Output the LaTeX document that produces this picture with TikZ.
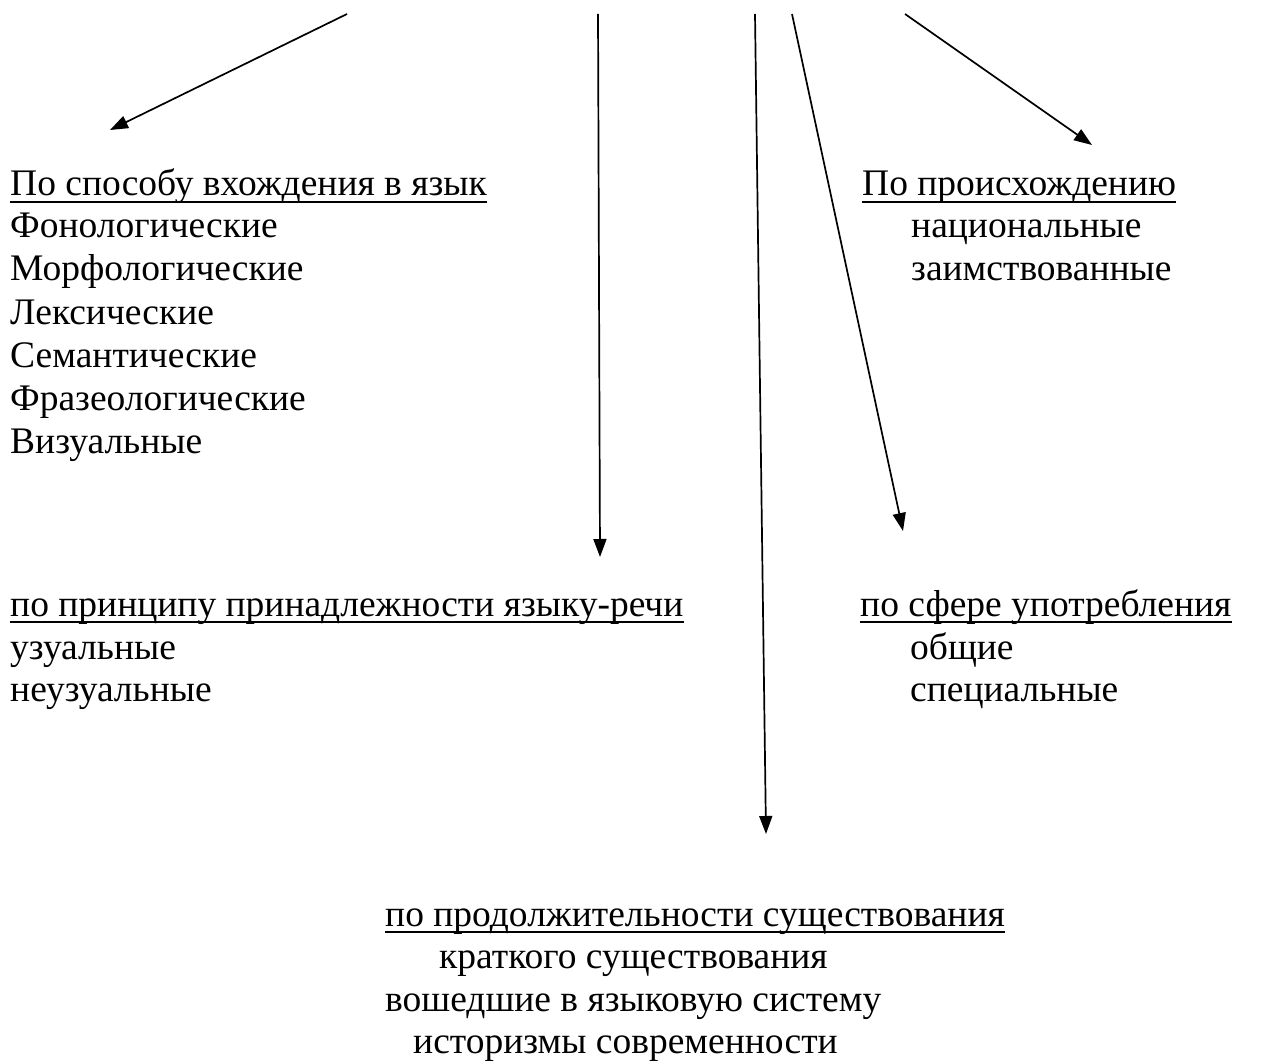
\documentclass[tikz,border=0pt]{standalone}
\usepackage{fontspec}
\setmainfont{Liberation Serif}
\usetikzlibrary{arrows.meta}
\newcommand\myul[1]{\draw[uline] ([yshift=-6pt]#1.base west) -- ([yshift=-6pt]#1.base east);}
\begin{document}
\begin{tikzpicture}[x=1pt,y=-1pt,
  lbl/.style={anchor=base west,inner sep=0pt,font=\fontsize{37.5}{43}\selectfont},
  conn/.style={line width=1.7pt,-{Triangle[length=18pt,width=13pt]}},
  uline/.style={line width=2pt}]
\useasboundingbox[fill=white] (0,0) rectangle (1265,1064);

% arrows
\coordinate (s1) at (347,14);  \coordinate (t1) at (110,130);
\coordinate (s2) at (598,14);  \coordinate (t2) at (600,557);
\coordinate (s3) at (755,14);  \coordinate (t3) at (766,834);
\coordinate (s4) at (792,14);  \coordinate (t4) at (903,531);
\coordinate (s5) at (905,14);  \coordinate (t5) at (1092,145);
\draw[conn] (s1) -- (t1);
\draw[conn] (s2) -- (t2);
\draw[conn] (s3) -- (t3);
\draw[conn] (s4) -- (t4);
\draw[conn] (s5) -- (t5);

% left top group
\node[lbl] (h1) at (10,196) {По способу вхождения в язык};
\node[lbl] (a1) at (10,238) {Фонологические};
\node[lbl] (a2) at (10,281) {Морфологические};
\node[lbl] (a3) at (10,324) {Лексические};
\node[lbl] (a4) at (10,367) {Семантические};
\node[lbl] (a5) at (10,410) {Фразеологические};
\node[lbl] (a6) at (10,453) {Визуальные};
\myul{h1}

% right top group
\node[lbl] (h2) at (862,196) {По происхождению};
\node[lbl] (b1) at (911,238) {национальные};
\node[lbl] (b2) at (911,281) {заимствованные};
\myul{h2}

% middle left group
\node[lbl] (h3) at (10,616) {по принципу принадлежности языку-речи};
\node[lbl] (c1) at (10,659) {узуальные};
\node[lbl] (c2) at (10,701) {неузуальные};
\myul{h3}

% middle right group
\node[lbl] (h4) at (860,616) {по сфере употребления};
\node[lbl] (d1) at (910,659) {общие};
\node[lbl] (d2) at (910,701) {специальные};
\myul{h4}

% bottom group
\node[lbl] (h5) at (385,926) {по продолжительности существования};
\node[lbl] (e1) at (439,968.5) {краткого существования};
\node[lbl] (e2) at (385,1011) {вошедшие в языковую систему};
\node[lbl] (e3) at (413,1053.5) {историзмы современности};
\myul{h5}
\end{tikzpicture}
\end{document}
